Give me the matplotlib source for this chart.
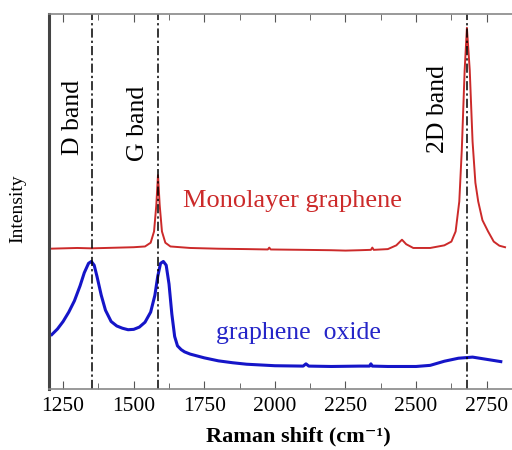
import matplotlib.pyplot as plt
from matplotlib.ticker import MultipleLocator

plt.rcParams["font.family"] = ["Liberation Serif", "DejaVu Serif"]

# Monolayer graphene spectrum (arbitrary intensity units)
mono_shift = [1200, 1250, 1300, 1350, 1400, 1450, 1500, 1540, 1560, 1572, 1580,
              1586, 1592, 1600, 1612, 1630, 1700, 1800, 1900, 1975, 1980, 1985,
              2100, 2200, 2250, 2300, 2340, 2345, 2350, 2400, 2430, 2450, 2465,
              2490, 2550, 2600, 2625, 2640, 2653, 2662, 2672, 2680, 2690, 2700,
              2710, 2720, 2735, 2755, 2775, 2795, 2815]
mono_int = [37.4, 37.5, 37.6, 37.5, 37.6, 37.7, 37.8, 38.0, 39.0, 42.0, 49.0,
            57.0, 49.0, 42.0, 39.0, 38.0, 37.6, 37.4, 37.3, 37.2, 37.7, 37.2,
            37.1, 37.0, 36.9, 37.0, 37.1, 37.7, 37.1, 37.3, 38.3, 39.8, 38.6,
            37.6, 37.6, 38.3, 39.3, 42.0, 50.0, 64.0, 85.0, 96.3, 85.0, 66.0,
            55.0, 50.0, 45.0, 42.0, 39.3, 38.2, 37.8]

# Graphene oxide spectrum
go_shift = [1210, 1230, 1250, 1270, 1290, 1310, 1325, 1340, 1350, 1360, 1370,
            1385, 1400, 1420, 1440, 1460, 1480, 1500, 1520, 1540, 1560, 1575,
            1585, 1595, 1605, 1615, 1625, 1635, 1645, 1655, 1668, 1680, 1700,
            1750, 1800, 1850, 1900, 2000, 2100, 2110, 2120, 2200, 2300, 2335,
            2340, 2345, 2400, 2500, 2550, 2600, 2650, 2700, 2750, 2800]
go_int = [14.5, 16.0, 18.0, 20.5, 23.5, 27.5, 31.0, 33.5, 34.0, 33.0, 30.0,
          25.0, 21.0, 18.0, 16.8, 16.2, 15.8, 15.9, 16.5, 17.8, 20.5, 25.0,
          30.0, 33.5, 34.0, 33.0, 28.0, 20.0, 14.0, 11.5, 10.5, 9.9, 9.3,
          8.3, 7.5, 7.0, 6.6, 6.2, 6.1, 6.7, 6.1, 6.0, 6.1, 6.1,
          6.7, 6.1, 6.0, 6.0, 6.3, 7.4, 8.2, 8.5, 7.9, 7.3]

band_pos = [1352, 1586, 2680]
band_names = ["D band", "G band", "2D band"]

fig = plt.figure(figsize=(5.12, 4.5), dpi=100)
ax = fig.add_axes([0.0957, 0.1356, 0.910, 0.8334])

ax.plot(mono_shift, mono_int, color="#cc2a2a", linewidth=1.4)
ax.plot(go_shift, go_int, color="#1515c8", linewidth=2.2)

for pos in band_pos:
    ax.axvline(pos, color="black", linewidth=1.1, linestyle=(0, (6, 2, 1.5, 2)))

label_x = [1286, 1516, 2576]
label_y = [72.3, 70.9, 74.7]
for x, y, name in zip(label_x, label_y, band_names):
    ax.text(x, y, name, rotation=90, ha="center", va="center", fontsize=18.5)

ax.text(1675, 50, "Monolayer graphene", color="#cc2a2a", fontsize=19,
        ha="left", va="center")
ax.text(1790, 15, "graphene  oxide", color="#2525c8", fontsize=18.5,
        ha="left", va="center")

ax.set_xlim(1200, 2850)
ax.set_ylim(0, 100)
ax.xaxis.set_major_locator(MultipleLocator(250))
ax.xaxis.set_minor_locator(MultipleLocator(125))
ax.set_yticks([])
ax.tick_params(axis="x", which="both", direction="in", top=True, labelsize=15.5,
               color="#555555", pad=6)
ax.tick_params(axis="x", which="major", length=6)
ax.tick_params(axis="x", which="minor", length=4)

ax.spines["left"].set_linewidth(2.2)
ax.spines["left"].set_color("#444444")
for side in ["top", "bottom", "right"]:
    ax.spines[side].set_color("#888888")
    ax.spines[side].set_linewidth(1.2)

# axis titles placed in figure coordinates
fig.text(0.582, 0.030, "Raman shift (cm\u207b\u00b9)", fontsize=16,
         fontweight="bold", ha="center", va="center")
ax.set_ylabel("Intensity", fontsize=14, va="center")
ax.yaxis.set_label_coords(-0.067, 0.48)

fig.savefig("out.png", dpi=100)
